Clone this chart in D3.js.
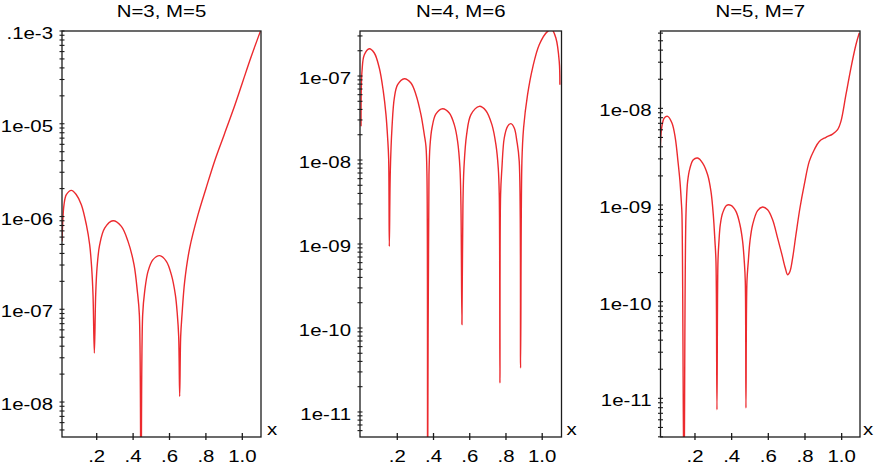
<!DOCTYPE html>
<html>
<head>
<meta charset="utf-8">
<script src="https://cdn.jsdelivr.net/npm/d3@7"></script>
<style>
  body { margin: 0; background: #fff; }
  text { font-family: "Liberation Sans", Arial, Helvetica, sans-serif; font-size: 17px; fill: #000; }
</style>
</head>
<body>
<svg id="chart" width="874" height="468"></svg>
<script>
'use strict';

var titles = ['N=3, M=5', 'N=4, M=6', 'N=5, M=7'];
var xTickValues = [0.2, 0.4, 0.6, 0.8, 1.0];
var xTickLabels = ['.2', '.4', '.6', '.8', '1.0'];

// y tick values (decades) and how they are printed
var yTicksN3 = [1e-4, 1e-5, 1e-6, 1e-7, 1e-8];
var yLabelsN3 = ['.1e-3', '1e-05', '1e-06', '1e-07', '1e-08'];
var yTicksN4 = [1e-7, 1e-8, 1e-9, 1e-10, 1e-11];
var yLabelsN4 = ['1e-07', '1e-08', '1e-09', '1e-10', '1e-11'];
var yTicksN5 = [1e-8, 1e-9, 1e-10, 1e-11];
var yLabelsN5 = ['1e-08', '1e-09', '1e-10', '1e-11'];

// error curves, x and log10(|error|)
var xN3 = [0.0094, 0.0204, 0.0332, 0.0607, 0.0881, 0.1156, 0.1431, 0.1614, 0.1724, 0.1797, 0.187,
  0.1944, 0.2017, 0.2163, 0.2438, 0.2896, 0.3354, 0.372, 0.405, 0.4233, 0.4343, 0.4434, 0.4526,
  0.4636, 0.4819, 0.5094, 0.546, 0.5826, 0.6101, 0.632, 0.643, 0.6504, 0.6559, 0.6614, 0.6687,
  0.6834, 0.7108, 0.7566, 0.80, 0.85, 0.90, 0.95, 1.00, 1.05, 1.0991];
var errN3 = [-6.268, -5.872, -5.765, -5.718, -5.765, -5.872, -6.088, -6.304, -6.555, -6.843, -7.472,
  -6.843, -6.555, -6.304, -6.124, -6.045, -6.106, -6.268, -6.519, -6.807, -7.058, -9.5, -7.058,
  -6.807, -6.591, -6.465, -6.422, -6.483, -6.627, -6.843, -7.058, -7.292, -7.939, -7.292, -7.058,
  -6.699, -6.340, -5.980, -5.700, -5.390, -5.120, -4.850, -4.560, -4.270, -4.004];

var xN4 = [0.0, 0.0052, 0.0181, 0.0457, 0.0732, 0.1008, 0.1229, 0.1376, 0.1468, 0.1523, 0.156,
  0.1615, 0.1707, 0.1836, 0.202, 0.2388, 0.2755, 0.3031, 0.3307, 0.3491, 0.3583, 0.3638, 0.3675,
  0.3749, 0.3804, 0.3914, 0.4135, 0.4503, 0.487, 0.5146, 0.533, 0.5459, 0.5514, 0.5569, 0.5624,
  0.568, 0.5827, 0.6066, 0.6526, 0.6893, 0.7224, 0.7445, 0.7574, 0.7629, 0.7666, 0.7703, 0.7776,
  0.7905, 0.8089, 0.8273, 0.8457, 0.8604, 0.8732, 0.8806, 0.888, 0.8972, 0.9192, 0.9468, 0.9836,
  1.0296, 1.0535, 1.0755, 1.0939, 1.0976];
var errN4 = [-7.599, -6.944, -6.746, -6.675, -6.726, -6.905, -7.183, -7.460, -7.738, -7.976, -9.028,
  -8.135, -7.619, -7.262, -7.103, -7.032, -7.083, -7.222, -7.460, -7.698, -7.837, -8.175, -12,
  -8.175, -7.837, -7.619, -7.452, -7.389, -7.440, -7.579, -7.778, -8.095, -8.532, -9.960, -8.532,
  -8.095, -7.698, -7.460, -7.361, -7.413, -7.579, -7.818, -8.095, -8.413, -10.655, -8.413, -8.095,
  -7.738, -7.599, -7.567, -7.619, -7.778, -8.016, -10.476, -8.016, -7.619, -7.222, -6.905, -6.627,
  -6.468, -6.448, -6.548, -6.825, -7.103];

var xN5 = [0.0091, 0.0182, 0.0327, 0.0509, 0.0745, 0.0927, 0.1073, 0.1182, 0.1254, 0.1291, 0.14,
  0.1509, 0.16, 0.1727, 0.1909, 0.2145, 0.2418, 0.269, 0.2872, 0.2999, 0.309, 0.3145, 0.3199,
  0.3254, 0.3308, 0.3381, 0.3508, 0.3726, 0.3962, 0.4235, 0.4453, 0.4599, 0.4689, 0.4744, 0.478,
  0.4835, 0.4908, 0.4998, 0.5144, 0.5416, 0.5689, 0.5962, 0.6234, 0.6507, 0.6743, 0.6925, 0.7052,
  0.7179, 0.7325, 0.7507, 0.7725, 0.7961, 0.8233, 0.8506, 0.8779, 0.9142, 0.9506, 0.9778, 0.996,
  1.0233, 1.0505, 1.0778, 1.096];
var errN5 = [-8.549, -8.204, -8.100, -8.083, -8.152, -8.307, -8.549, -8.756, -8.962, -9.100, -12,
  -9.100, -8.756, -8.618, -8.531, -8.514, -8.566, -8.687, -8.859, -9.100, -9.376, -9.583, -11.118,
  -9.583, -9.376, -9.204, -9.083, -9.004, -9.004, -9.066, -9.204, -9.376, -9.583, -9.790, -11.100,
  -9.790, -9.583, -9.376, -9.204, -9.059, -9.021, -9.049, -9.152, -9.342, -9.514, -9.652, -9.721,
  -9.687, -9.549, -9.307, -9.031, -8.790, -8.549, -8.428, -8.342, -8.300, -8.266, -8.221, -8.135,
  -7.859, -7.583, -7.342, -7.221];

var panels = [
  { left: 62, right: 261, xMin: 0.0093, xMax: 1.1027, yMin: -8.377, yMax: -4.0, xLabelGap: 6,
    xs: xN3, err: errN3, yTicks: yTicksN3, yLabels: yLabelsN3 },
  { left: 360, right: 561.5, xMin: -0.0058, xMax: 1.1065, yMin: -11.298, yMax: -6.464, xLabelGap: 5,
    xs: xN4, err: errN4, yTicks: yTicksN4, yLabels: yLabelsN4 },
  { left: 660.5, right: 860, xMin: 0.012, xMax: 1.1, yMin: -11.4, yMax: -7.2, xLabelGap: 3,
    xs: xN5, err: errN5, yTicks: yTicksN5, yLabels: yLabelsN5 }
];

var plotTop = 31, plotBottom = 437;
var svg = d3.select('#chart');

// text in the original is a bit wider than Helvetica, stretch it sideways
function wideText(g, x, y, str, anchor) {
  return g.append('text')
    .attr('transform', 'translate(' + x + ',' + y + ') scale(1.2,1)')
    .attr('text-anchor', anchor)
    .text(str);
}

panels.forEach(function (p, i) {
  var g = svg.append('g');
  var x = d3.scaleLinear().domain([p.xMin, p.xMax]).range([p.left, p.right]);
  var y = d3.scaleLog().domain([Math.pow(10, p.yMin), Math.pow(10, p.yMax)]).range([plotBottom, plotTop]);

  var clipId = 'clip' + i;
  svg.append('clipPath').attr('id', clipId)
    .append('rect')
    .attr('x', p.left).attr('y', plotTop)
    .attr('width', p.right - p.left).attr('height', plotBottom - plotTop);

  // curve
  var pts = p.xs.map(function (v, k) { return [v, Math.pow(10, p.err[k])]; });
  var line = d3.line()
    .x(function (d) { return x(d[0]); })
    .y(function (d) { return y(d[1]); })
    .curve(d3.curveCatmullRom.alpha(0.5));

  g.append('path')
    .datum(pts)
    .attr('clip-path', 'url(#' + clipId + ')')
    .attr('fill', 'none')
    .attr('stroke', '#ec2a2e')
    .attr('stroke-width', 1.4)
    .attr('stroke-linejoin', 'round')
    .attr('d', line);

  // frame
  g.append('rect')
    .attr('x', p.left).attr('y', plotTop)
    .attr('width', p.right - p.left).attr('height', plotBottom - plotTop)
    .attr('fill', 'none')
    .attr('stroke', '#1c1c1c')
    .attr('stroke-width', 1.3);

  // minor + major ticks on the left axis
  g.selectAll('line.ytick')
    .data(y.ticks())
    .enter().append('line')
    .attr('class', 'ytick')
    .attr('x1', p.left - 2.5).attr('x2', p.left + 2.5)
    .attr('y1', function (d) { return y(d); })
    .attr('y2', function (d) { return y(d); })
    .attr('stroke', '#1c1c1c')
    .attr('stroke-width', 1.1);

  p.yTicks.forEach(function (t, k) {
    wideText(g, p.left - 9, y(t) + 8, p.yLabels[k], 'end');
  });

  // x ticks
  g.selectAll('line.xtick')
    .data(xTickValues)
    .enter().append('line')
    .attr('class', 'xtick')
    .attr('x1', function (d) { return x(d); })
    .attr('x2', function (d) { return x(d); })
    .attr('y1', plotBottom - 4).attr('y2', plotBottom + 3)
    .attr('stroke', '#1c1c1c')
    .attr('stroke-width', 1.3);

  xTickValues.forEach(function (t, k) {
    wideText(g, x(t), 462, xTickLabels[k], 'middle');
  });

  wideText(g, p.right + p.xLabelGap, 435, 'x', 'start');
  wideText(g, (p.left + p.right) / 2, 17, titles[i], 'middle');
});
</script>
</body>
</html>
